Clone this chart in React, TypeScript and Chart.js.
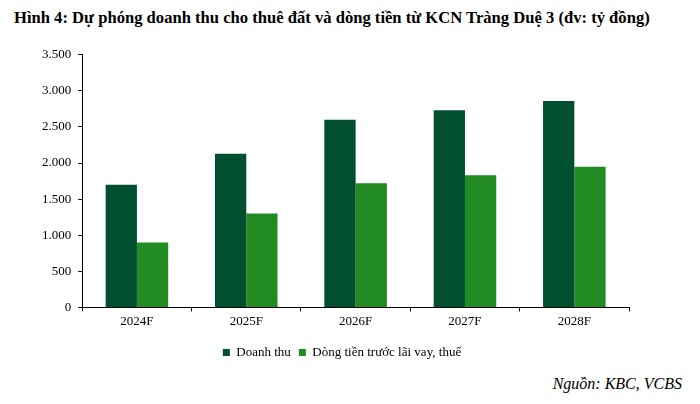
import React, { useEffect, useRef } from "react";
import { Chart, registerables } from "chart.js";

Chart.register(...registerables);

const categories = ["2024F", "2025F", "2026F", "2027F", "2028F"];
const revenue = [1700, 2130, 2600, 2730, 2860];
const cashflow = [900, 1300, 1720, 1830, 1950];
const seriesNames = ["Doanh thu", "Dòng tiền trước lãi vay, thuế"];
const titleText = "Hình 4: Dự phóng doanh thu cho thuê đất và dòng tiền từ KCN Tràng Duệ 3 (đv: tỷ đồng)";
const sourceText = "Nguồn: KBC, VCBS";

const FONT = "'Liberation Serif', 'Times New Roman', serif";

const legendShift = {
  id: "legendShift",
  afterLayout(chart: any) {
    const l = chart.legend;
    if (l) {
      l.left += 10;
      l.right += 10;
    }
  },
};

export default function App() {
  const ref = useRef<HTMLCanvasElement | null>(null);

  useEffect(() => {
    let chart: Chart | null = null;
    let cancelled = false;
    const build = () => {
      if (cancelled || !ref.current) return;
      chart = new Chart(ref.current, {
        type: "bar",
        data: {
          labels: categories,
          datasets: [
            {
              label: seriesNames[0],
              data: revenue,
              backgroundColor: "#005030",
              borderWidth: 0,
            },
            {
              label: seriesNames[1],
              data: cashflow,
              backgroundColor: "#228B22",
              borderWidth: 0,
            },
          ],
        },
        plugins: [legendShift],
        options: {
          animation: false,
          responsive: false,
          maintainAspectRatio: false,
          layout: { padding: { top: 10, right: 54, left: 35, bottom: 0 } },
          datasets: { bar: { categoryPercentage: 0.572, barPercentage: 1 } },
          scales: {
            x: {
              grid: {
                display: true,
                drawOnChartArea: false,
                drawTicks: true,
                tickLength: 4,
                color: "#000",
                offset: true,
              },
              border: { display: true, color: "#000", width: 1 },
              ticks: { color: "#000", font: { family: FONT, size: 13 }, padding: 2 },
              afterFit: (scale: any) => {
                scale.height += 7;
              },
            },
            y: {
              min: 0,
              max: 3500,
              grid: {
                display: true,
                drawOnChartArea: false,
                drawTicks: true,
                tickLength: 4,
                color: "#000",
              },
              border: { display: true, color: "#000", width: 1 },
              ticks: {
                stepSize: 500,
                color: "#000",
                font: { family: FONT, size: 13 },
                padding: 7,
                callback: (v: any) => Number(v).toLocaleString("de-DE"),
              },
            },
          },
          plugins: {
            legend: {
              position: "bottom",
              labels: {
                color: "#000",
                font: { family: FONT, size: 13 },
                boxWidth: 7,
                boxHeight: 7,
                padding: 8,
              },
            },
            tooltip: { enabled: false },
            title: { display: false },
          },
        },
      });
    };
    const fonts: any = (document as any).fonts;
    if (fonts && fonts.load) {
      Promise.all([
        fonts.load("13px 'Liberation Serif'"),
        fonts.load("italic 16px 'Liberation Serif'"),
        fonts.load("bold 16px 'Liberation Serif'"),
      ])
        .catch(() => null)
        .then(build);
    } else {
      build();
    }
    return () => {
      cancelled = true;
      if (chart) chart.destroy();
    };
  }, []);

  return (
    <div style={{ position: "fixed", left: 0, top: 0, width: 700, height: 404, background: "#fff", overflow: "hidden" }}>
      <div
        style={{
          position: "absolute",
          left: 14,
          top: 8,
          fontFamily: FONT,
          fontWeight: "bold",
          fontSize: 16.6,
          color: "#000",
          whiteSpace: "nowrap",
          lineHeight: "20px",
        }}
      >
        {titleText}
      </div>
      <canvas ref={ref} width={683} height={329} style={{ position: "absolute", left: 0, top: 40, width: 683, height: 329 }} />
      <div
        style={{
          position: "absolute",
          right: 18,
          top: 374,
          fontFamily: FONT,
          fontStyle: "italic",
          fontSize: 16,
          color: "#000",
          whiteSpace: "nowrap",
          lineHeight: "20px",
        }}
      >
        {sourceText}
      </div>
    </div>
  );
}
